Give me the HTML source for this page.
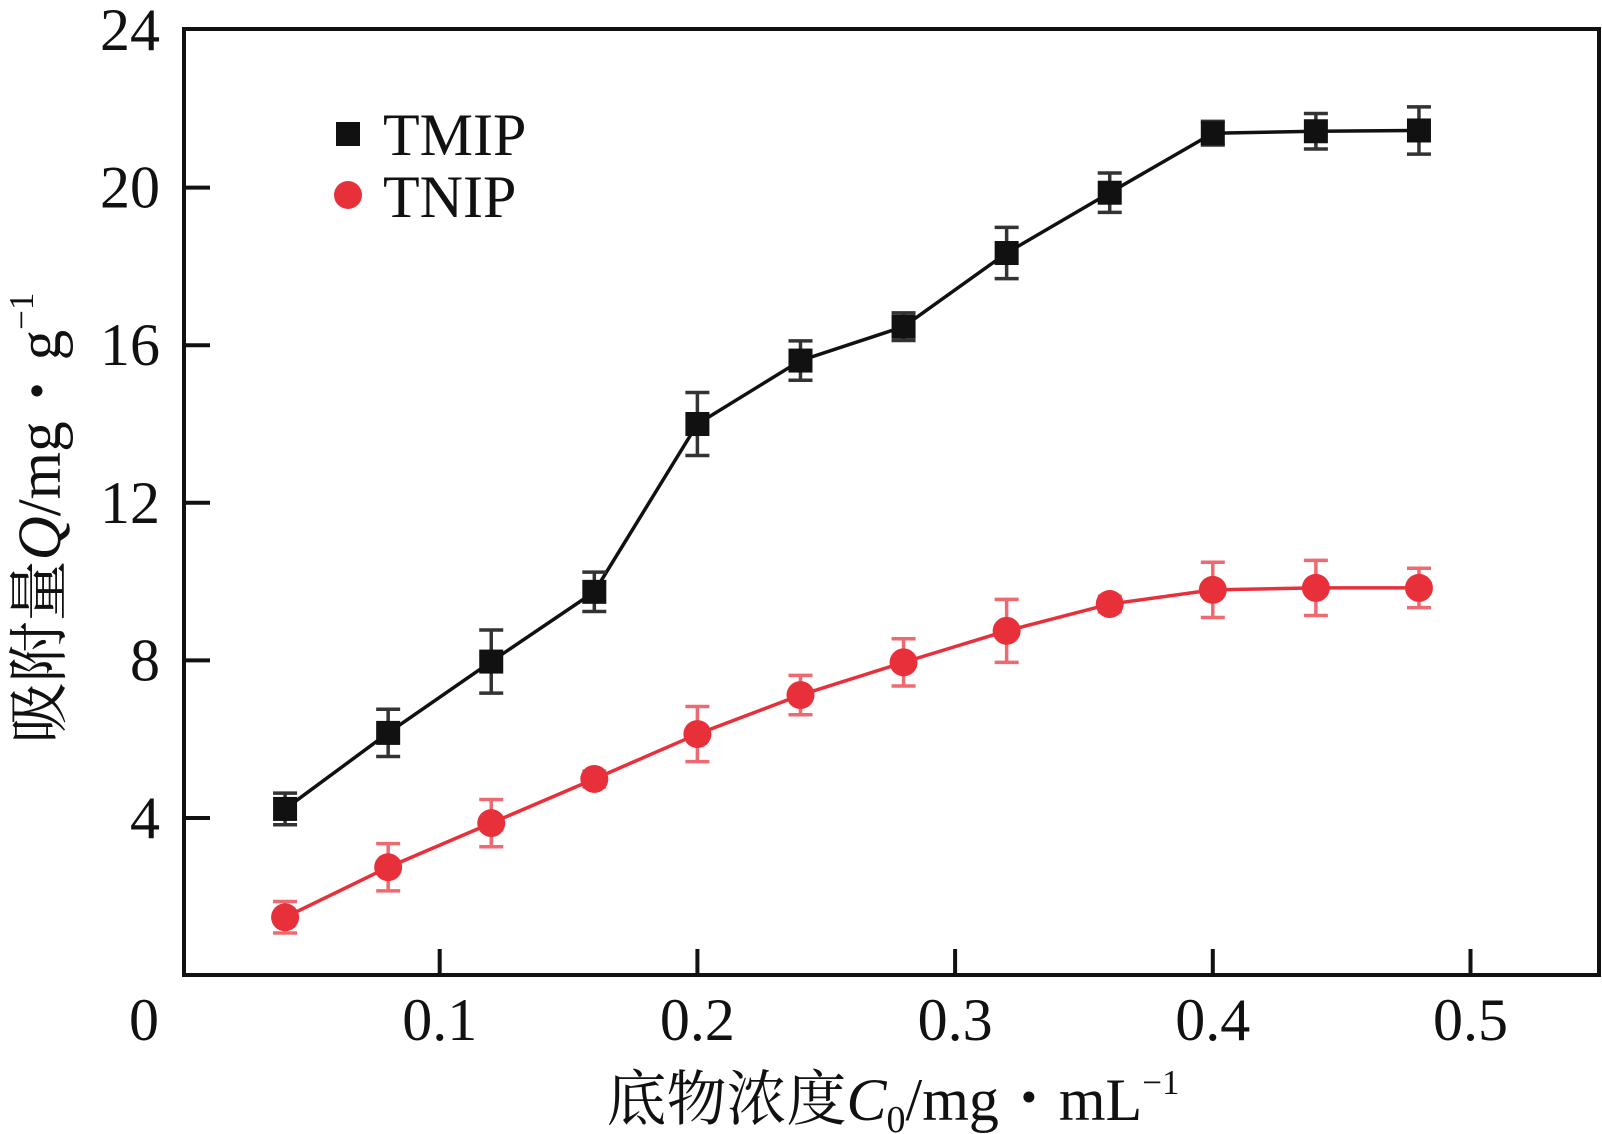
<!DOCTYPE html>
<html><head><meta charset="utf-8"><style>
html,body{margin:0;padding:0;background:#fff;}
svg{display:block;}
text{font-family:"Liberation Serif","Noto Serif CJK SC",serif;fill:#111;}
</style></head><body>
<svg id="chart" width="1602" height="1134" viewBox="0 0 1602 1134" xmlns="http://www.w3.org/2000/svg">
<g id="axes"></g>
<g id="series"></g>
<g>
  <rect x="336" y="122" width="24" height="24" fill="#111"/>
  <text x="383" y="155" font-size="60">TMIP</text>
  <circle cx="348" cy="195" r="14" fill="#e8303a"/>
  <text x="383" y="217" font-size="60">TNIP</text>
</g>
<text transform="translate(60,518) rotate(-90)" text-anchor="middle" font-size="61">吸附量<tspan font-style="italic">Q</tspan>/mg・g<tspan font-size="35" dy="-27">−1</tspan></text>
<text x="893" y="1120" text-anchor="middle" font-size="60">底物浓度<tspan font-style="italic">C</tspan><tspan font-size="38" dy="12">0</tspan><tspan dy="-12">/mg・mL</tspan><tspan font-size="35" dy="-26">−1</tspan></text>
</svg>
<script>
const xValues=[0.04,0.08,0.12,0.16,0.20,0.24,0.28,0.32,0.36,0.40,0.44,0.48];
const tmipValues=[4.23,6.16,7.97,9.74,14.0,15.61,16.47,18.34,19.87,21.38,21.43,21.45];
const tmipErrors=[0.4,0.6,0.8,0.5,0.8,0.5,0.35,0.65,0.5,0.3,0.45,0.6];
const tnipValues=[1.48,2.75,3.87,4.99,6.13,7.12,7.95,8.75,9.43,9.79,9.84,9.84];
const tnipErrors=[0.4,0.6,0.6,0.2,0.7,0.5,0.6,0.8,0.2,0.7,0.7,0.5];
const yTicks=[4,8,12,16,20,24];
const xTicks=[0.1,0.2,0.3,0.4,0.5];
const xTickLabels=["0.1","0.2","0.3","0.4","0.5"];

const NS="http://www.w3.org/2000/svg";
const X0=182,XS=2577,Y0=975.6,YS=39.4;
const L=184,R=1599,T=29,B=975;
function sx(v){return X0+v*XS;}
function sy(v){return Y0-v*YS;}
function mk(tag,attrs,parent){const e=document.createElementNS(NS,tag);for(const k in attrs)e.setAttribute(k,attrs[k]);parent.appendChild(e);return e;}
const axes=document.getElementById('axes'),ser=document.getElementById('series');

let f=mk('rect',{x:L,y:T,width:R-L,height:B-T,fill:'none',stroke:'#111','stroke-width':4},axes);


yTicks.forEach(v=>{
  const y=sy(v);
  if(v<24){const t=mk('line',{x1:L,x2:L+26,y1:y,y2:y,stroke:'#111','stroke-width':4},axes);
  
  }
  const tx=mk('text',{x:160,y:y+20,'text-anchor':'end','font-size':60},axes);
  tx.textContent=String(v);
  
  
});
xTicks.forEach((v,i)=>{
  const x=sx(v);
  const t=mk('line',{x1:x,x2:x,y1:B,y2:B-26,stroke:'#111','stroke-width':4},axes);
  
  
  const tx=mk('text',{x:x,y:1040,'text-anchor':'middle','font-size':60},axes);
  tx.textContent=xTickLabels[i];
  
  
});
const z=mk('text',{x:144,y:1040,'text-anchor':'middle','font-size':60},axes);
z.textContent='0';



function drawSeries(vals,errs,color,errColor,shape,name){
  const g=mk('g',{},ser);
  
  
  const pts=vals.map((v,i)=>sx(xValues[i])+','+sy(v)).join(' ');
  const pl=mk('polyline',{points:pts,fill:'none',stroke:color,'stroke-width':3.5},g);
  
  
  vals.forEach((v,i)=>{
    const x=sx(xValues[i]),yt=sy(v+errs[i]),yb=sy(v-errs[i]);
    const eb=mk('path',{d:`M${x},${yt}V${yb}M${x-12},${yt}H${x+12}M${x-12},${yb}H${x+12}`,stroke:errColor,'stroke-width':3.5,fill:'none'},g);
    
    
    let m;
    if(shape==='sq') m=mk('rect',{x:x-12,y:sy(v)-12,width:24,height:24,fill:color},g);
    else m=mk('circle',{cx:x,cy:sy(v),r:14,fill:color},g);
    
    
  });
}
drawSeries(tmipValues,tmipErrors,'#111','#333','sq','tmip');
drawSeries(tnipValues,tnipErrors,'#e8303a','#ee6a70','circ','tnip');
</script>
</body></html>
